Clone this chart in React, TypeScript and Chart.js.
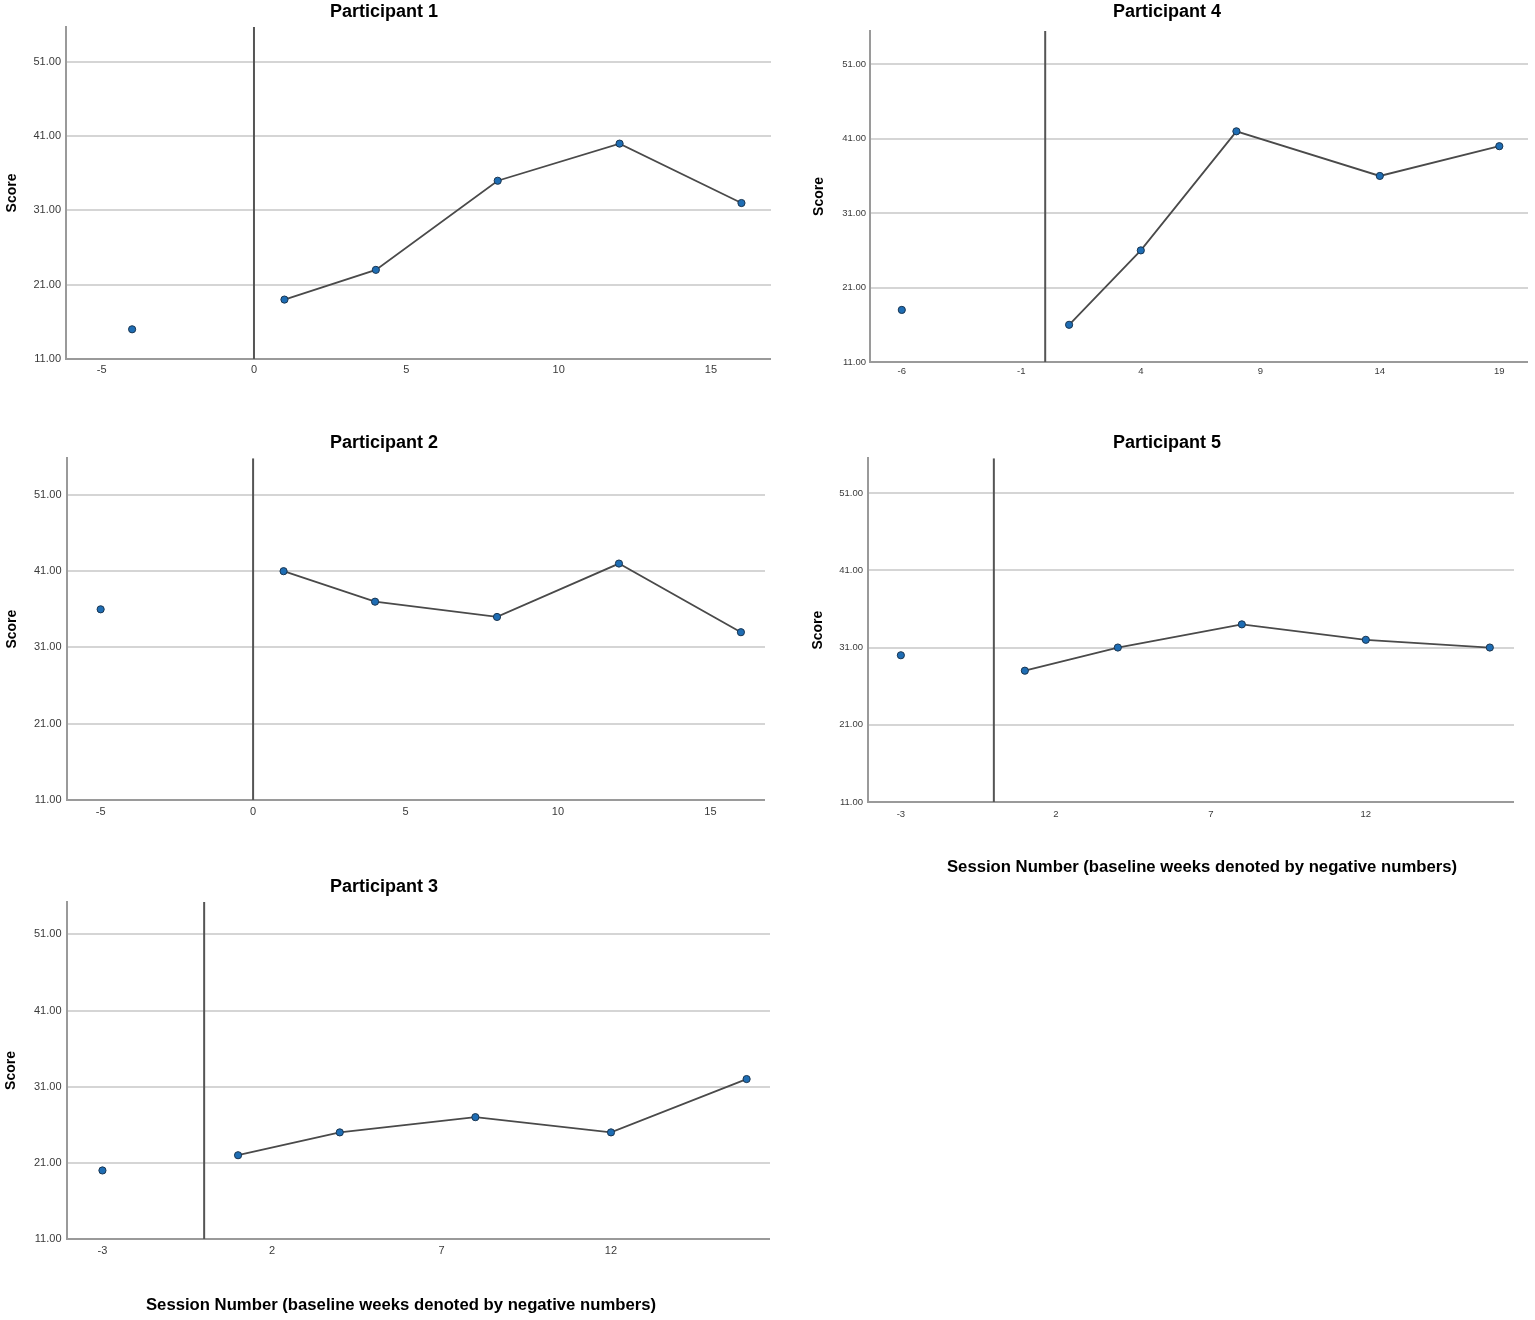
import React, { useEffect, useRef } from 'react';
import { Chart, registerables } from 'chart.js';

Chart.register(...registerables);

// ---------- data ----------
const Y_TICKS = [11, 21, 31, 41, 51];
const Y_MIN = 11;
const PHASE_CHANGE = 0;

const X_TICKS_P1 = [-5, 0, 5, 10, 15];
const X_TICKS_P2 = [-5, 0, 5, 10, 15];
const X_TICKS_P3 = [-3, 2, 7, 12];
const X_TICKS_P4 = [-6, -1, 4, 9, 14, 19];
const X_TICKS_P5 = [-3, 2, 7, 12];

const P1_BASE_SESSIONS = [-4];
const P1_BASE_SCORES = [15];
const P1_TX_SESSIONS = [1, 4, 8, 12, 16];
const P1_TX_SCORES = [19, 23, 35, 40, 32];

const P2_BASE_SESSIONS = [-5];
const P2_BASE_SCORES = [36];
const P2_TX_SESSIONS = [1, 4, 8, 12, 16];
const P2_TX_SCORES = [41, 37, 35, 42, 33];

const P3_BASE_SESSIONS = [-3];
const P3_BASE_SCORES = [20];
const P3_TX_SESSIONS = [1, 4, 8, 12, 16];
const P3_TX_SCORES = [22, 25, 27, 25, 32];

const P4_BASE_SESSIONS = [-6];
const P4_BASE_SCORES = [18];
const P4_TX_SESSIONS = [1, 4, 8, 14, 19];
const P4_TX_SCORES = [16, 26, 42, 36, 40];

const P5_BASE_SESSIONS = [-3];
const P5_BASE_SCORES = [30];
const P5_TX_SESSIONS = [1, 4, 8, 12, 16];
const P5_TX_SCORES = [28, 31, 34, 32, 31];

const Y_TITLE = 'Score';
const X_TITLE = 'Session Number (baseline weeks denoted by negative numbers)';

// ---------- styles / layout ----------
const FONT = "'Liberation Sans', Arial, Helvetica, sans-serif";
const GRID = '#d5d5d5';
const AXIS = '#9a9a9a';
const LINE = '#4a4a4a';
const REF_LINE = '#555555';
const POINT_FILL = '#1e6db4';
const POINT_EDGE = '#1a3550';
const TICK_COLOR = '#3a3a3a';

type Panel = {
  title: string;
  baseX: number[];
  baseY: number[];
  txX: number[];
  txY: number[];
  xTicks: number[];
  xMin: number;
  xMax: number;
  yMax: number;
  left: number;
  top: number;
  width: number;
  height: number;
  padLeft: number;
  yAxisWidth: number;
  xAxisHeight: number;
  titlePadTop: number;
  titlePadBottom: number;
  scorePad: number;
  tickSize: number;
  xTickPad: number;
  yTickPad: number;
  caption?: { x: number; y: number };
};

const PANELS: Panel[] = [
  {
    title: 'Participant 1',
    baseX: P1_BASE_SESSIONS, baseY: P1_BASE_SCORES, txX: P1_TX_SESSIONS, txY: P1_TX_SCORES,
    xTicks: X_TICKS_P1, xMin: -6.17, xMax: 16.97, yMax: 55.7,
    left: -3, top: 0, width: 774, height: 385, padLeft: 0,
    yAxisWidth: 69, xAxisHeight: 26, titlePadTop: 1.2, titlePadBottom: 4.2,
    scorePad: 6.6, tickSize: 11, xTickPad: 4.4, yTickPad: 5,
  },
  {
    title: 'Participant 2',
    baseX: P2_BASE_SESSIONS, baseY: P2_BASE_SCORES, txX: P2_TX_SESSIONS, txY: P2_TX_SCORES,
    xTicks: X_TICKS_P2, xMin: -6.12, xMax: 16.79, yMax: 55.8,
    left: 3, top: 425, width: 762, height: 400, padLeft: 0,
    yAxisWidth: 63.5, xAxisHeight: 25, titlePadTop: 7.2, titlePadBottom: 4.5,
    scorePad: 0.6, tickSize: 11, xTickPad: 5.4, yTickPad: 5,
  },
  {
    title: 'Participant 3',
    baseX: P3_BASE_SESSIONS, baseY: P3_BASE_SCORES, txX: P3_TX_SESSIONS, txY: P3_TX_SCORES,
    xTicks: X_TICKS_P3, xMin: -4.06, xMax: 16.69, yMax: 55.25,
    left: -2, top: 869, width: 772, height: 451, padLeft: 0,
    yAxisWidth: 68.5, xAxisHeight: 81, titlePadTop: 7.2, titlePadBottom: 4.2,
    scorePad: 4.6, tickSize: 11, xTickPad: 5.4, yTickPad: 5,
    caption: { x: 403, y: 436 },
  },
  {
    title: 'Participant 4',
    baseX: P4_BASE_SESSIONS, baseY: P4_BASE_SCORES, txX: P4_TX_SESSIONS, txY: P4_TX_SCORES,
    xTicks: X_TICKS_P4, xMin: -7.33, xMax: 20.2, yMax: 55.48,
    left: 806, top: 0, width: 722, height: 386, padLeft: 0,
    yAxisWidth: 64, xAxisHeight: 24, titlePadTop: 1.2, titlePadBottom: 8.2,
    scorePad: 4.6, tickSize: 9.5, xTickPad: 3.3, yTickPad: 4,
  },
  {
    title: 'Participant 5',
    baseX: P5_BASE_SESSIONS, baseY: P5_BASE_SCORES, txX: P5_TX_SESSIONS, txY: P5_TX_SCORES,
    xTicks: X_TICKS_P5, xMin: -4.06, xMax: 16.78, yMax: 55.5,
    left: 800, top: 425, width: 714, height: 465, padLeft: 20,
    yAxisWidth: 48, xAxisHeight: 88, titlePadTop: 7.2, titlePadBottom: 4.5,
    scorePad: -10.4, tickSize: 9.5, xTickPad: 6.3, yTickPad: 5,
    caption: { x: 402, y: 442 },
  },
];

const captionPlugin = {
  id: 'caption',
  afterDraw(chart: any, _args: any, opts: any) {
    if (!opts || !opts.text) return;
    const ctx = chart.ctx;
    ctx.save();
    ctx.font = `bold ${opts.size}px ${FONT}`;
    ctx.fillStyle = '#000';
    ctx.textAlign = 'center';
    ctx.textBaseline = 'middle';
    ctx.fillText(opts.text, opts.x, opts.y);
    ctx.restore();
  },
};

const toPoints = (xs: number[], ys: number[]) => xs.map((x, i) => ({ x, y: ys[i] }));

function PanelChart({ p }: { p: Panel }) {
  const ref = useRef<HTMLCanvasElement | null>(null);

  useEffect(() => {
    if (!ref.current) return;
    const chart = new Chart(ref.current, {
      type: 'scatter',
      data: {
        datasets: [
          {
            label: 'Phase change',
            data: [
              { x: PHASE_CHANGE, y: Y_MIN },
              { x: PHASE_CHANGE, y: p.yMax },
            ],
            showLine: true,
            borderColor: REF_LINE,
            borderWidth: 2,
            pointRadius: 0,
            order: 3,
          },
          {
            label: 'Treatment',
            data: toPoints(p.txX, p.txY),
            showLine: true,
            borderColor: LINE,
            borderWidth: 1.8,
            pointRadius: 3.6,
            pointBackgroundColor: POINT_FILL,
            pointBorderColor: POINT_EDGE,
            pointBorderWidth: 1,
            order: 1,
          },
          {
            label: 'Baseline',
            data: toPoints(p.baseX, p.baseY),
            showLine: false,
            pointRadius: 3.6,
            pointBackgroundColor: POINT_FILL,
            pointBorderColor: POINT_EDGE,
            pointBorderWidth: 1,
            order: 0,
          },
        ],
      } as any,
      options: {
        responsive: false,
        animation: false,
        layout: {
          autoPadding: false,
          padding: { left: p.padLeft, right: 0, top: 0, bottom: 0 },
        },
        plugins: {
          legend: { display: false },
          tooltip: { enabled: false },
          title: {
            display: true,
            text: p.title,
            color: '#000',
            font: { family: FONT, size: 18, weight: 'bold' },
            padding: { top: p.titlePadTop, bottom: p.titlePadBottom },
          },
          caption: p.caption
            ? { text: X_TITLE, x: p.caption.x, y: p.caption.y, size: 16.7 }
            : { text: '' },
        } as any,
        scales: {
          x: {
            type: 'linear',
            min: p.xMin,
            max: p.xMax,
            afterBuildTicks: (s: any) => {
              s.ticks = p.xTicks.map((v) => ({ value: v }));
            },
            afterFit: (s: any) => {
              s.height = p.xAxisHeight;
            },
            grid: { display: false, drawTicks: false },
            border: { display: true, color: AXIS, width: 2 },
            ticks: {
              autoSkip: false,
              maxRotation: 0,
              padding: p.xTickPad,
              color: TICK_COLOR,
              font: { family: FONT, size: p.tickSize },
            },
          },
          y: {
            type: 'linear',
            min: Y_MIN,
            max: p.yMax,
            afterBuildTicks: (s: any) => {
              s.ticks = Y_TICKS.map((v) => ({ value: v }));
            },
            afterFit: (s: any) => {
              s.width = p.yAxisWidth;
            },
            grid: { color: GRID, lineWidth: 2, drawTicks: false },
            border: { display: true, color: AXIS, width: 2 },
            ticks: {
              padding: p.yTickPad,
              color: TICK_COLOR,
              font: { family: FONT, size: p.tickSize },
              callback: (v: any) => Number(v).toFixed(2),
            },
            title: {
              display: true,
              text: Y_TITLE,
              color: '#000',
              font: { family: FONT, size: 14, weight: 'bold' },
              padding: { top: p.scorePad, bottom: 0 },
            },
          },
        },
      } as any,
      plugins: [captionPlugin as any],
    });
    return () => chart.destroy();
  }, [p]);

  return (
    <canvas
      ref={ref}
      width={p.width}
      height={p.height}
      style={{
        position: 'absolute',
        left: p.left,
        top: p.top,
        width: p.width,
        height: p.height,
      }}
    />
  );
}

export default function App() {
  return (
    <div
      style={{
        position: 'absolute',
        left: 0,
        top: 0,
        width: 1535,
        height: 1320,
        background: '#fff',
        overflow: 'hidden',
      }}
    >
      {PANELS.map((p) => (
        <PanelChart key={p.title} p={p} />
      ))}
    </div>
  );
}
